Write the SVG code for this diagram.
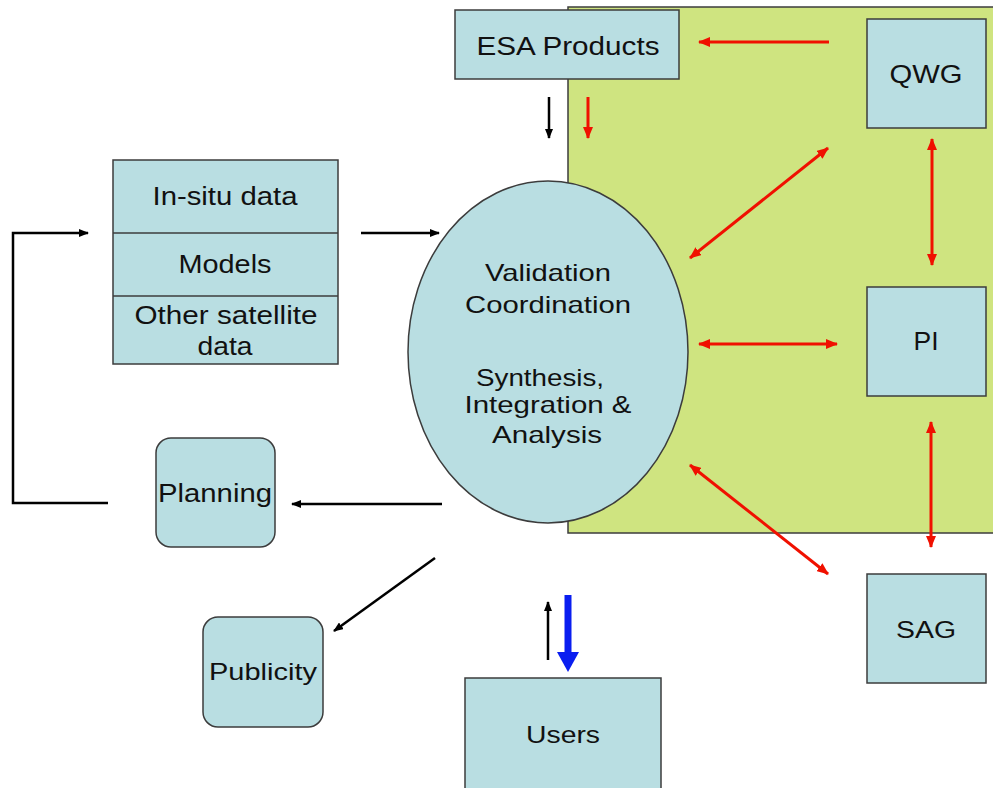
<svg xmlns="http://www.w3.org/2000/svg" width="993" height="788" viewBox="0 0 993 788">
<style>
.box{fill:#b9dee2;stroke:#3c3c3c;stroke-width:1.5}
.t{font-family:"Liberation Sans",Arial,sans-serif;fill:#111;text-anchor:middle}
.blk{stroke:#000;stroke-width:2.5;fill:none}
.red{stroke:#f01000;stroke-width:3;fill:none}
</style>
<defs>
<marker id="ab" viewBox="0 0 10 8" refX="9" refY="4" markerWidth="10" markerHeight="8" markerUnits="userSpaceOnUse" orient="auto-start-reverse"><path d="M0,0 L10,4 L0,8 Z" fill="#000"/></marker>
<marker id="ar" viewBox="0 0 12 10" refX="11" refY="5" markerWidth="12" markerHeight="10" markerUnits="userSpaceOnUse" orient="auto-start-reverse"><path d="M0,0 L12,5 L0,10 Z" fill="#f01000"/></marker>
<marker id="abl" viewBox="0 0 20 22" refX="0" refY="11" markerWidth="20" markerHeight="22" markerUnits="userSpaceOnUse" orient="auto"><path d="M0,0 L20,11 L0,22 Z" fill="#0a1ef0"/></marker>
</defs>
<rect width="993" height="788" fill="#fff"/>
<rect id="region" x="568" y="7" width="432" height="526" fill="#cfe480" stroke="#3c3c3c" stroke-width="1.5"/>

<g id="connectors">
<line class="red" x1="829" y1="42" x2="699" y2="42" marker-end="url(#ar)"/>
<line class="blk" x1="549" y1="97" x2="549" y2="138" marker-end="url(#ab)"/>
<line class="red" x1="588" y1="97" x2="588" y2="138" marker-end="url(#ar)"/>
<line class="red" x1="828" y1="148" x2="690" y2="258" marker-start="url(#ar)" marker-end="url(#ar)"/>
<line class="red" x1="932" y1="139" x2="932" y2="265" marker-start="url(#ar)" marker-end="url(#ar)"/>
<line class="red" x1="699" y1="344" x2="837" y2="344" marker-start="url(#ar)" marker-end="url(#ar)"/>
<line class="red" x1="931" y1="422" x2="931" y2="547" marker-start="url(#ar)" marker-end="url(#ar)"/>
<line class="red" x1="690" y1="465" x2="828" y2="574" marker-start="url(#ar)" marker-end="url(#ar)"/>
<line class="blk" x1="361" y1="233" x2="439" y2="233" marker-end="url(#ab)"/>
<path class="blk" d="M108,503 H13 V233 H88" marker-end="url(#ab)"/>
<line class="blk" x1="442" y1="504" x2="292" y2="504" marker-end="url(#ab)"/>
<line class="blk" x1="435" y1="558" x2="334" y2="631" marker-end="url(#ab)"/>
<line class="blk" x1="548" y1="660" x2="548" y2="602" marker-end="url(#ab)"/>
<line stroke="#0a1ef0" stroke-width="7" x1="568" y1="595" x2="568" y2="652" marker-end="url(#abl)"/>
</g>

<g id="esa"><rect class="box" x="455" y="10" width="224" height="69"/><text class="t" x="568" y="55" font-size="26" textLength="183" lengthAdjust="spacingAndGlyphs">ESA Products</text></g>
<g id="qwg"><rect class="box" x="867" y="19" width="119" height="109"/><text class="t" x="926" y="83" font-size="25" textLength="73" lengthAdjust="spacingAndGlyphs">QWG</text></g>
<g id="pi"><rect class="box" x="867" y="287" width="119" height="109"/><text class="t" x="926" y="350" font-size="25" textLength="25" lengthAdjust="spacingAndGlyphs">PI</text></g>
<g id="sag"><rect class="box" x="867" y="574" width="119" height="109"/><text class="t" x="926" y="638" font-size="23" textLength="60" lengthAdjust="spacingAndGlyphs">SAG</text></g>
<g id="users"><rect class="box" x="465" y="678" width="196" height="120"/><text class="t" x="563" y="743" font-size="24" textLength="74" lengthAdjust="spacingAndGlyphs">Users</text></g>
<g id="publicity"><rect class="box" x="203" y="617" width="120" height="110" rx="15"/><text class="t" x="263" y="680" font-size="24" textLength="108" lengthAdjust="spacingAndGlyphs">Publicity</text></g>
<g id="planning"><rect class="box" x="156" y="438" width="119" height="109" rx="15"/><text class="t" x="215" y="502" font-size="25" textLength="114" lengthAdjust="spacingAndGlyphs">Planning</text></g>
<g id="inputs">
<rect class="box" x="113" y="160" width="225" height="204"/>
<line x1="113" y1="233" x2="338" y2="233" stroke="#3c3c3c" stroke-width="1.5"/>
<line x1="113" y1="296" x2="338" y2="296" stroke="#3c3c3c" stroke-width="1.5"/>
<text class="t" x="225" y="205" font-size="25" textLength="145" lengthAdjust="spacingAndGlyphs">In-situ data</text>
<text class="t" x="225" y="273" font-size="25" textLength="93" lengthAdjust="spacingAndGlyphs">Models</text>
<text class="t" x="226" y="324" font-size="25" textLength="183" lengthAdjust="spacingAndGlyphs">Other satellite</text>
<text class="t" x="225" y="355" font-size="25" textLength="55" lengthAdjust="spacingAndGlyphs">data</text>
</g>
<g id="validation">
<ellipse cx="548" cy="352" rx="140" ry="171" fill="#b9dee2" stroke="#3c3c3c" stroke-width="1.5"/>
<text class="t" x="548" y="281" font-size="24" textLength="126" lengthAdjust="spacingAndGlyphs">Validation</text>
<text class="t" x="548" y="313" font-size="24" textLength="166" lengthAdjust="spacingAndGlyphs">Coordination</text>
<text class="t" x="540" y="386" font-size="24" textLength="128" lengthAdjust="spacingAndGlyphs">Synthesis,</text>
<text class="t" x="548" y="413" font-size="24" textLength="167" lengthAdjust="spacingAndGlyphs">Integration &amp;</text>
<text class="t" x="547" y="443" font-size="24" textLength="110" lengthAdjust="spacingAndGlyphs">Analysis</text>
</g>
</svg>
